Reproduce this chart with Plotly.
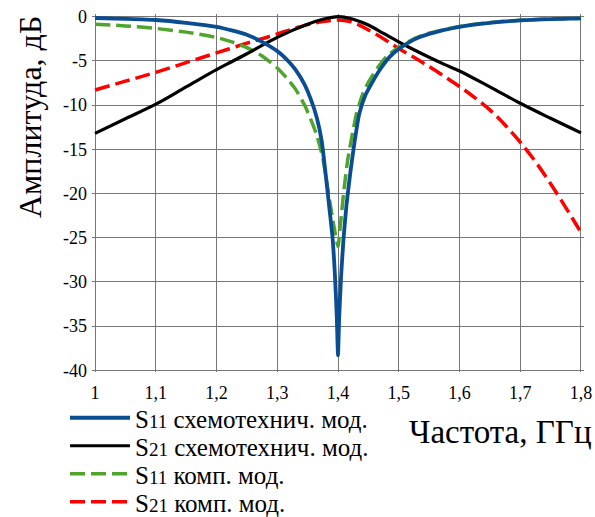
import plotly.graph_objects as go

# ---- data ----
f_s11_sch = [1.0, 1.05, 1.1, 1.15, 1.2, 1.225, 1.25, 1.275, 1.3, 1.315, 1.33, 1.345, 1.355, 1.365,
             1.373, 1.38, 1.386, 1.391, 1.395, 1.398, 1.4, 1.402, 1.405, 1.409, 1.414, 1.42, 1.427,
             1.435, 1.445, 1.455, 1.47, 1.485, 1.5, 1.525, 1.55, 1.6, 1.65, 1.7, 1.75, 1.8]
s11_sch = [-0.15, -0.25, -0.38, -0.7, -1.15, -1.55, -2.05, -2.85, -3.9, -4.8, -6.0, -7.7, -9.3, -11.4,
           -14.0, -18.0, -21.8, -25.0, -29.3, -34.0, -38.3, -34.0, -29.5, -25.2, -21.3, -17.8, -14.3,
           -11.0, -8.9, -7.6, -5.9, -4.55, -3.65, -2.6, -1.95, -1.15, -0.7, -0.42, -0.28, -0.2]

f_s21_sch = [1.0, 1.05, 1.1, 1.15, 1.2, 1.225, 1.25, 1.275, 1.3, 1.325, 1.35, 1.375, 1.39, 1.4, 1.41,
             1.425, 1.45, 1.475, 1.5, 1.525, 1.55, 1.575, 1.6, 1.65, 1.7, 1.75, 1.8]
s21_sch = [-13.2, -11.55, -9.9, -7.95, -6.0, -5.1, -4.2, -3.25, -2.35, -1.55, -0.85, -0.3, -0.08, 0.0, -0.05,
           -0.3, -0.95, -1.9, -2.85, -3.75, -4.6, -5.4, -6.15, -7.95, -9.8, -11.5, -13.15]

f_s11_comp = [1.0, 1.05, 1.1, 1.15, 1.2, 1.225, 1.25, 1.275, 1.3, 1.315, 1.33, 1.345, 1.355, 1.365,
              1.375, 1.385, 1.393, 1.4, 1.404, 1.41, 1.416, 1.423, 1.431, 1.441, 1.451, 1.466, 1.481,
              1.5, 1.525, 1.55, 1.6, 1.65, 1.7, 1.75, 1.8]
s11_comp = [-0.85, -1.05, -1.33, -1.75, -2.35, -2.85, -3.5, -4.45, -5.8, -6.9, -8.2, -10.0, -11.6, -13.4,
            -16.0, -20.3, -23.6, -26.0, -23.5, -19.5, -16.2, -13.5, -10.8, -8.7, -7.3, -5.7, -4.4,
            -3.5, -2.5, -1.87, -1.1, -0.67, -0.4, -0.28, -0.2]

f_s21_comp = [1.0, 1.05, 1.1, 1.15, 1.2, 1.25, 1.275, 1.3, 1.325, 1.35, 1.375, 1.4, 1.42, 1.435, 1.45,
              1.475, 1.5, 1.525, 1.55, 1.575, 1.6, 1.625, 1.65, 1.675, 1.7, 1.725, 1.75, 1.775, 1.8]
s21_comp = [-8.3, -7.3, -6.3, -5.2, -4.1, -3.0, -2.5, -1.95, -1.4, -0.9, -0.55, -0.38, -0.55, -0.95, -1.5,
            -2.5, -3.6, -4.6, -5.65, -6.75, -7.9, -9.15, -10.55, -12.25, -14.2, -16.4, -18.9, -21.6, -24.4]

x_tickvals = [1.0, 1.1, 1.2, 1.3, 1.4, 1.5, 1.6, 1.7, 1.8]
x_ticktext = ["1", "1,1", "1,2", "1,3", "1,4", "1,5", "1,6", "1,7", "1,8"]
y_tickvals = [0, -5, -10, -15, -20, -25, -30, -35, -40]
y_ticktext = ["0", "-5", "-10", "-15", "-20", "-25", "-30", "-35", "-40"]

names = [
    "S<span style='font-size:19px'>11</span> схемотехнич. мод.",
    "S<span style='font-size:19px'>21</span> схемотехнич. мод.",
    "S<span style='font-size:19px'>11</span> комп. мод.",
    "S<span style='font-size:19px'>21</span> комп. мод.",
]

FONT = "Liberation Serif, Times New Roman, serif"
W, H = 595, 517
ML, MR, MT, MB = 92, 11, 14, 145


def cx(px):
    return px / W


def cy(py):
    return 1 - py / H


fig = go.Figure()
# draw order: red, green, black, blue (blue on top)
fig.add_trace(go.Scatter(x=f_s21_comp, y=s21_comp, mode="lines", name=names[3], legend="legend4",
                         line=dict(color="#ff0000", width=3.5, dash="15px,6px",
                                   shape="spline", smoothing=1.0)))
fig.add_trace(go.Scatter(x=f_s11_comp, y=s11_comp, mode="lines", name=names[2], legend="legend3",
                         line=dict(color="#4fa42c", width=3.5, dash="15px,6px",
                                   shape="spline", smoothing=0.5)))
fig.add_trace(go.Scatter(x=f_s21_sch, y=s21_sch, mode="lines", name=names[1], legend="legend2",
                         line=dict(color="#000000", width=3.2, shape="spline", smoothing=1.0)))
fig.add_trace(go.Scatter(x=f_s11_sch, y=s11_sch, mode="lines", name=names[0], legend="legend",
                         line=dict(color="#0a4d92", width=3.8, shape="spline", smoothing=0.5)))

grid = "#777777"
fig.update_xaxes(range=[0.995, 1.805], tickvals=x_tickvals, ticktext=x_ticktext, automargin=False,
                 showgrid=True, gridcolor=grid, gridwidth=1.2, zeroline=False, showline=False,
                 ticks="", ticklabelstandoff=8,
                 tickfont=dict(family=FONT, size=18, color="#000"))
fig.update_yaxes(range=[-40.2, 0.3], tickvals=y_tickvals, ticktext=y_ticktext, automargin=False,
                 showgrid=True, gridcolor=grid, gridwidth=1.2, zeroline=False, showline=False,
                 ticks="", ticklabelstandoff=4,
                 tickfont=dict(family=FONT, size=18, color="#000"))

fig.add_annotation(text="Амплитуда, дБ", xref="paper", yref="paper",
                   x=(30 - ML) / (W - ML - MR), y=(H - MB - 117) / (H - MT - MB),
                   textangle=-90, showarrow=False, font=dict(family=FONT, size=32, color="#000"),
                   xanchor="center", yanchor="middle")
fig.add_annotation(text="Частота, ГГц", xref="paper", yref="paper",
                   x=(500 - ML) / (W - ML - MR), y=(H - MB - 432) / (H - MT - MB),
                   showarrow=False, font=dict(family=FONT, size=33, color="#000"),
                   xanchor="center", yanchor="middle")

leg_common = dict(xref="container", yref="container", xanchor="left", yanchor="middle",
                  font=dict(family=FONT, size=25, color="#000"),
                  bgcolor="rgba(0,0,0,0)", borderwidth=0, itemwidth=60)
leg_rows = [418, 446, 474, 502]
fig.update_layout(
    width=W, height=H,
    margin=dict(l=ML, r=MR, t=MT, b=MB, pad=0, autoexpand=False),
    paper_bgcolor="white", plot_bgcolor="white",
    font=dict(family=FONT, color="#000"),
    legend=dict(x=cx(65), y=cy(leg_rows[0]), **leg_common),
    legend2=dict(x=cx(65), y=cy(leg_rows[1]), **leg_common),
    legend3=dict(x=cx(65), y=cy(leg_rows[2]), **leg_common),
    legend4=dict(x=cx(65), y=cy(leg_rows[3]), **leg_common),
    showlegend=True,
)

fig.write_html("out.html", config={"displayModeBar": False},
               post_script="document.body.style.margin='0px';document.body.style.overflow='hidden';")
